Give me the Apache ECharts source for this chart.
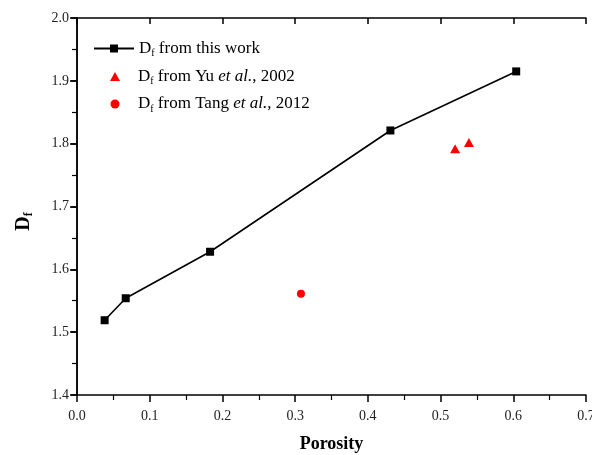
<!DOCTYPE html>
<html>
<head>
<meta charset="utf-8">
<script src="https://cdn.jsdelivr.net/npm/echarts@6/dist/echarts.min.js"></script>
<style>
  html, body { margin: 0; padding: 0; background: #fff; }
  #chart { width: 592px; height: 455px; }
</style>
</head>
<body>
<div id="chart"></div>
<script>
// Fractal dimension versus porosity
const thisWorkPorosity = [0.038, 0.067, 0.183, 0.431, 0.604];
const thisWorkDf       = [1.519, 1.554, 1.628, 1.821, 1.915];
const yuPorosity   = [0.520, 0.539];
const yuDf         = [1.792, 1.802];
const tangPorosity = [0.308];
const tangDf       = [1.561];

const xTicks = [0, 0.1, 0.2, 0.3, 0.4, 0.5, 0.6, 0.7];
const yTicks = [1.4, 1.5, 1.6, 1.7, 1.8, 1.9, 2.0];

const pairs = (xs, ys) => xs.map((x, i) => [x, ys[i]]);
const serif = '"Liberation Serif", "DejaVu Serif", serif';

const chart = echarts.init(document.getElementById('chart'));

const legendLabels = {
  'this': '{d|D}{sub|f}{b| from this work}',
  'yu': '{dp|D}{sub|f}{b| from Yu }{i|et al.}{b|, 2002}',
  'tang': '{dp|D}{sub|f}{b| from Tang }{i|et al.}{b|, 2012}'
};

const legendText = {
  fontFamily: serif,
  fontSize: 17,
  color: '#000',
  rich: {
    d: { fontFamily: serif, fontSize: 17, color: '#000' },
    dp: { fontFamily: serif, fontSize: 17, color: '#000', padding: [0, 0, 0, 13] },
    b: { fontFamily: serif, fontSize: 17, color: '#000' },
    i: { fontFamily: serif, fontSize: 17, fontStyle: 'italic', color: '#000' },
    sub: { fontFamily: serif, fontSize: 10, color: '#000', padding: [10, 0, 0, 0] }
  }
};

const baseAxis = {
  axisLine: { lineStyle: { color: '#000', width: 1.5 } },
  splitLine: { show: false },
  minorSplitLine: { show: false }
};

chart.setOption({
  backgroundColor: '#fff',
  animation: false,
  grid: { left: 77, right: 6, top: 18, bottom: 60, outerBoundsMode: 'none' },
  legend: [
    {
      orient: 'vertical',
      left: 93,
      top: 40,
      padding: 0,
      itemWidth: 40,
      itemHeight: 10,
      data: ['this'],
      formatter: name => legendLabels[name],
      textStyle: legendText
    },
    {
      orient: 'vertical',
      left: 110,
      top: 68,
      padding: 0,
      itemGap: 9,
      itemWidth: 10,
      itemHeight: 9,
      data: ['yu', 'tang'],
      formatter: name => legendLabels[name],
      textStyle: legendText
    }
  ],
  xAxis: [
    Object.assign({}, baseAxis, {
      type: 'value', position: 'bottom', min: 0, max: 0.7, interval: 0.1,
      name: 'Porosity', nameLocation: 'middle', nameGap: 40,
      nameTextStyle: { fontFamily: serif, fontSize: 18, fontWeight: 'bold', color: '#000' },
      axisTick: { show: true, inside: false, length: 7, lineStyle: { color: '#000', width: 1.5 } },
      minorTick: { show: true, splitNumber: 2, length: 5, lineStyle: { color: '#000', width: 1.2 } },
      axisLabel: {
        fontFamily: serif, fontSize: 14, color: '#222', margin: 14,
        formatter: v => v.toFixed(1)
      }
    }),
    Object.assign({}, baseAxis, {
      type: 'value', position: 'top', min: 0, max: 0.7, interval: 0.1,
      axisTick: { show: true, inside: true, length: 6, lineStyle: { color: '#000', width: 1.5 } },
      minorTick: { show: false },
      axisLabel: { show: false }
    })
  ],
  yAxis: [
    Object.assign({}, baseAxis, {
      type: 'value', position: 'left', min: 1.4, max: 2.0, interval: 0.1,
      name: '{b|D}{sub|f}', nameLocation: 'middle', nameGap: 42, nameRotate: 90,
      nameTextStyle: {
        fontFamily: serif, fontSize: 20, fontWeight: 'bold', color: '#000',
        padding: [0, 30, 0, 0],
        rich: {
          b: { fontFamily: serif, fontSize: 20, fontWeight: 'bold', color: '#000' },
          sub: { fontFamily: serif, fontSize: 12, fontWeight: 'bold', color: '#000', padding: [10, 0, 0, 0] }
        }
      },
      axisTick: { show: true, inside: false, length: 7, lineStyle: { color: '#000', width: 1.5 } },
      minorTick: { show: true, splitNumber: 2, length: 5, lineStyle: { color: '#000', width: 1.2 } },
      axisLabel: {
        fontFamily: serif, fontSize: 14, color: '#222', margin: 8,
        formatter: v => v.toFixed(1)
      }
    }),
    Object.assign({}, baseAxis, {
      type: 'value', position: 'right', min: 1.4, max: 2.0, interval: 0.1,
      axisTick: { show: true, inside: true, length: 6, lineStyle: { color: '#000', width: 1.5 } },
      minorTick: { show: false },
      axisLabel: { show: false }
    })
  ],
  series: [
    {
      name: 'this', type: 'line', xAxisIndex: 0, yAxisIndex: 0,
      data: pairs(thisWorkPorosity, thisWorkDf),
      symbol: 'rect', symbolSize: 8,
      lineStyle: { color: '#000', width: 1.6 },
      itemStyle: { color: '#000', opacity: 1 }
    },
    {
      name: 'yu', type: 'scatter', xAxisIndex: 0, yAxisIndex: 0,
      data: pairs(yuPorosity, yuDf),
      symbol: 'triangle', symbolSize: [10, 9],
      itemStyle: { color: '#ff0000', opacity: 1 }
    },
    {
      name: 'tang', type: 'scatter', xAxisIndex: 0, yAxisIndex: 0,
      data: pairs(tangPorosity, tangDf),
      symbol: 'circle', symbolSize: 8,
      itemStyle: { color: '#ff0000', opacity: 1 }
    }
  ]
});
</script>
</body>
</html>
